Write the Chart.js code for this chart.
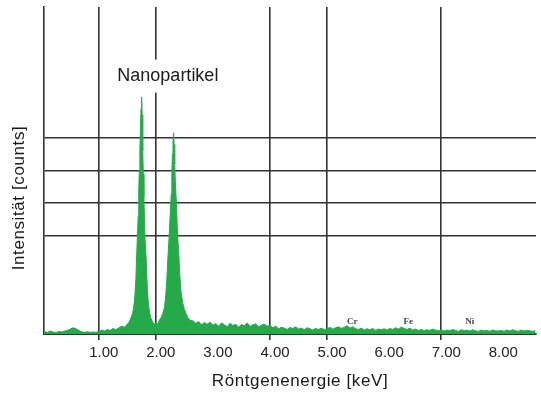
<!DOCTYPE html>
<html lang="de">
<head>
  <meta charset="UTF-8" />
  <title>EDX Spektrum Nanopartikel</title>
  <script src="https://cdn.jsdelivr.net/npm/chart.js"></script>
  <style>
    html, body { margin: 0; padding: 0; background: #fff; }
    canvas { display: block; }
  </style>
</head>
<body>
  <canvas id="spectrum" width="541" height="393"></canvas>

  <script>
    // Röntgenenergie [keV]
    const energies = [
      0.00, 0.05, 0.10, 0.15, 0.20, 0.25, 0.30, 0.35, 0.40, 0.45, 0.50, 0.55, 0.60, 0.65, 0.70, 0.75,
      0.80, 0.85, 0.90, 0.95, 1.00, 1.05, 1.10, 1.15, 1.20, 1.25, 1.30, 1.35, 1.40, 1.45, 1.50,
      1.53, 1.56, 1.59, 1.61, 1.63, 1.65, 1.67, 1.69, 1.70, 1.71, 1.72, 1.73, 1.74, 1.75, 1.76, 1.77,
      1.78, 1.79, 1.80, 1.81, 1.83, 1.85, 1.87, 1.89, 1.91, 1.94, 1.97, 2.00, 2.03, 2.06, 2.09, 2.12,
      2.15, 2.17, 2.19, 2.21, 2.23, 2.25, 2.27, 2.28, 2.29, 2.30, 2.31, 2.32, 2.33, 2.34, 2.36, 2.38,
      2.40, 2.42, 2.44, 2.47, 2.50, 2.53, 2.56, 2.60,
      2.65, 2.70, 2.75, 2.80, 2.85, 2.90, 2.95, 3.00,
      3.05, 3.10, 3.15, 3.20, 3.25, 3.30, 3.35, 3.40, 3.45, 3.50, 3.55, 3.60, 3.65, 3.70, 3.75, 3.80, 3.85, 3.90, 3.95, 4.00,
      4.05, 4.10, 4.15, 4.20, 4.25, 4.30, 4.35, 4.40, 4.45, 4.50, 4.55, 4.60, 4.65, 4.70, 4.75, 4.80, 4.85, 4.90, 4.95, 5.00,
      5.05, 5.10, 5.15, 5.20, 5.25, 5.30, 5.35, 5.40, 5.45, 5.50, 5.55, 5.60, 5.65, 5.70, 5.75, 5.80, 5.85, 5.90, 5.95, 6.00,
      6.05, 6.10, 6.15, 6.20, 6.25, 6.30, 6.35, 6.40, 6.45, 6.50, 6.55, 6.60, 6.65, 6.70, 6.75, 6.80, 6.85, 6.90, 6.95, 7.00,
      7.05, 7.10, 7.15, 7.20, 7.25, 7.30, 7.35, 7.40, 7.45, 7.50, 7.55, 7.60, 7.65, 7.70, 7.75, 7.80, 7.85, 7.90, 7.95, 8.00,
      8.05, 8.10, 8.15, 8.20, 8.25, 8.30, 8.35, 8.40, 8.45, 8.50, 8.55, 8.60, 8.65
    ];

    // Intensität (relative counts)
    const counts = [
      0.04, 0.07, 0.05, 0.09, 0.06, 0.04, 0.08, 0.06, 0.09, 0.11, 0.15, 0.19, 0.16, 0.11, 0.07, 0.05,
      0.07, 0.05, 0.06, 0.05, 0.08, 0.12, 0.09, 0.14, 0.11, 0.17, 0.13, 0.19, 0.24, 0.21, 0.30,
      0.36, 0.48, 0.62, 0.80, 1.10, 1.70, 2.70, 3.60, 4.40, 5.00, 5.60, 6.30, 6.90, 7.25, 6.70, 5.60,
      4.90, 4.20, 3.50, 2.90, 2.30, 1.40, 0.90, 0.65, 0.50, 0.38, 0.30, 0.34, 0.30, 0.42, 0.50, 0.62,
      0.80, 1.10, 1.60, 2.30, 2.90, 3.60, 4.30, 4.90, 5.50, 5.90, 6.15, 5.80, 5.20, 4.70, 4.00, 3.00,
      2.50, 1.80, 1.30, 0.95, 0.75, 0.62, 0.50, 0.42,
      0.40, 0.33, 0.38, 0.28, 0.35, 0.30, 0.36, 0.27,
      0.32, 0.24, 0.34, 0.28, 0.22, 0.33, 0.26, 0.30, 0.21, 0.29, 0.25, 0.34, 0.23, 0.28, 0.31, 0.22, 0.27, 0.30, 0.24, 0.26,
      0.19, 0.24, 0.16, 0.21, 0.18, 0.14, 0.20, 0.17, 0.22, 0.15, 0.18, 0.13, 0.19, 0.16, 0.12, 0.17, 0.14, 0.18, 0.13, 0.16,
      0.20, 0.15, 0.19, 0.22, 0.17, 0.21, 0.25, 0.18, 0.22, 0.16, 0.14, 0.18, 0.12, 0.16, 0.13, 0.17, 0.11, 0.15, 0.13, 0.16,
      0.12, 0.17, 0.14, 0.19, 0.15, 0.21, 0.17, 0.14, 0.18, 0.12, 0.15, 0.11, 0.14, 0.10, 0.13, 0.11, 0.15, 0.12, 0.10, 0.13,
      0.09, 0.12, 0.10, 0.14, 0.11, 0.08, 0.13, 0.10, 0.12, 0.09, 0.13, 0.10, 0.08, 0.12, 0.09, 0.11, 0.08, 0.12, 0.10, 0.09,
      0.11, 0.08, 0.12, 0.09, 0.13, 0.10, 0.08, 0.12, 0.09, 0.11, 0.10, 0.08, 0.10
    ];

    const xTickValues = [1, 2, 3, 4, 5, 6, 7, 8];
    const xGridValues = [1, 2, 4, 5, 7];
    const yGridValues = [3, 4, 5, 6];

    const elementLabels = ['Cr', 'Fe', 'Ni'];
    const elementEnergies = [5.44, 6.42, 7.50];

    const peakLabel = 'Nanopartikel';
    const peakLabelEnergy = 2.21;
    const peakLabelCount = 7.9;

    const xTitle = 'Röntgenenergie [keV]';
    const yTitle = 'Intensität [counts]';

    const FONT = '"Liberation Sans", Arial, Helvetica, sans-serif';
    const LINE = '#333333';
    const GREEN = '#25aa4a';

    const textPlugin = {
      id: 'textPlugin',
      afterDatasetsDraw(chart) {
        const { ctx, scales: { x, y } } = chart;
        ctx.save();

        // Beschriftung über den Peaks (mit weißem Hintergrund)
        ctx.font = '18px ' + FONT;
        const px = x.getPixelForValue(peakLabelEnergy);
        const py = y.getPixelForValue(peakLabelCount);
        const w = ctx.measureText(peakLabel).width;
        ctx.fillStyle = '#fff';
        ctx.fillRect(px - w / 2 - 3, py - 16, w + 6, 33);
        ctx.fillStyle = '#1a1a1a';
        ctx.textAlign = 'center';
        ctx.textBaseline = 'middle';
        ctx.fillText(peakLabel, px, py);

        // Elementlinien
        ctx.font = 'bold 9px "Liberation Serif", serif';
        ctx.fillStyle = '#444';
        elementLabels.forEach((lbl, i) => {
          ctx.fillText(lbl, x.getPixelForValue(elementEnergies[i]), y.getPixelForValue(0.37));
        });

        // Achsentitel
        ctx.font = '17px ' + FONT;
        ctx.fillStyle = '#1a1a1a';
        ctx.letterSpacing = '0.6px';
        ctx.fillText(xTitle, 300, 381);

        ctx.translate(19, 198);
        ctx.rotate(-Math.PI / 2);
        ctx.fillText(yTitle, 0, 0);
        ctx.restore();
      }
    };

    new Chart(document.getElementById('spectrum'), {
      type: 'line',
      data: {
        datasets: [{
          data: energies.map((e, i) => ({ x: e, y: counts[i] })),
          borderColor: GREEN,
          backgroundColor: GREEN,
          borderWidth: 1,
          pointRadius: 0,
          fill: 'origin',
          tension: 0
        }]
      },
      options: {
        responsive: false,
        animation: false,
        layout: { padding: { left: 44, right: 5, top: 7, bottom: 0 } },
        plugins: { legend: { display: false }, tooltip: { enabled: false } },
        scales: {
          x: {
            type: 'linear',
            min: 0.04,
            max: 8.66,
            afterBuildTicks: s => { s.ticks = xTickValues.map(v => ({ value: v })); },
            afterFit: s => { s.height = 59; },
            ticks: {
              callback: v => v.toFixed(2),
              font: { family: FONT, size: 15 },
              color: '#222',
              padding: 4,
              labelOffset: 5,
              maxRotation: 0,
              autoSkip: false
            },
            grid: {
              color: c => xGridValues.includes(c.tick && c.tick.value) ? LINE : 'transparent',
              lineWidth: 1.6,
              tickLength: 6
            },
            border: { color: LINE, width: 2 }
          },
          y: {
            min: 0,
            max: 10,
            afterBuildTicks: s => { s.ticks = yGridValues.map(v => ({ value: v })); },
            afterFit: s => { s.width = 0; },
            ticks: { display: false },
            grid: { color: LINE, lineWidth: 1.6, drawTicks: false },
            border: { color: LINE, width: 1.6 }
          }
        }
      },
      plugins: [textPlugin]
    });
  </script>
</body>
</html>
